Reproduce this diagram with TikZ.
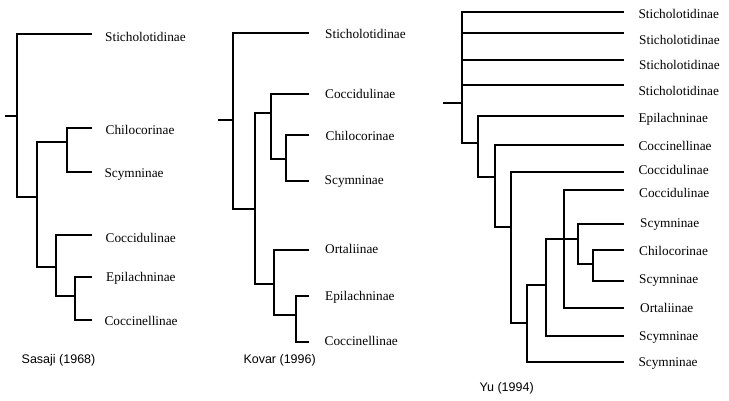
\documentclass[tikz,border=0pt]{standalone}
\usepackage{fontspec}
\setmainfont{Liberation Serif}
\newfontfamily\capfont{Liberation Sans}
\begin{document}
\begin{tikzpicture}[x=1pt,y=-1pt,
  br/.style={line width=2pt,line join=miter},
  lab/.style={anchor=base west,inner sep=0pt,font=\fontsize{13.3}{15}\selectfont},
  captxt/.style={anchor=base west,inner sep=0pt,font=\capfont\fontsize{12.5}{14}\selectfont}]
\useasboundingbox (0,0) rectangle (729,400);
% ---------- Panel 1: Sasaji (1968)
\coordinate (r1s) at (5,116);
\coordinate (r1) at (17,116);
\coordinate (n1b) at (37,197);
\coordinate (n1c) at (67,142);
\coordinate (n1d) at (56,267);
\coordinate (n1e) at (75,296);
\coordinate (a1) at (92,34);
\coordinate (a2) at (92,128);
\coordinate (a3) at (92,172);
\coordinate (a4) at (92,235);
\coordinate (a5) at (92,277);
\coordinate (a6) at (92,320);
\draw[br] (r1s) -- (r1);
\draw[br] (r1) |- (a1);
\draw[br] (r1) |- (n1b);
\draw[br] (n1b) |- (n1c);
\draw[br] (n1b) |- (n1d);
\draw[br] (n1c) |- (a2);
\draw[br] (n1c) |- (a3);
\draw[br] (n1d) |- (a4);
\draw[br] (n1d) |- (n1e);
\draw[br] (n1e) |- (a5);
\draw[br] (n1e) |- (a6);
\node[lab] (ta1) at (105,41.7) {Sticholotidinae};
\node[lab] (ta2) at (105.5,134.3) {Chilocorinae};
\node[lab] (ta3) at (104.3,177.3) {Scymninae};
\node[lab] (ta4) at (105.5,242.7) {Coccidulinae};
\node[lab] (ta5) at (106,281.7) {Epilachninae};
\node[lab] (ta6) at (104.3,325.5) {Coccinellinae};
\node[captxt] (cap1) at (21.5,363.3) {Sasaji (1968)};
% ---------- Panel 2: Kovar (1996)
\coordinate (r2s) at (218,120);
\coordinate (r2) at (233,120);
\coordinate (n2b) at (255,209);
\coordinate (n2c) at (271,113);
\coordinate (n2d) at (286,159);
\coordinate (n2e) at (274,284);
\coordinate (n2f) at (296,315);
\coordinate (b1) at (309,33);
\coordinate (b2) at (309,94);
\coordinate (b3) at (309,135);
\coordinate (b4) at (309,181);
\coordinate (b5) at (309,250);
\coordinate (b6) at (309,296);
\coordinate (b7) at (309,342);
\draw[br] (r2s) -- (r2);
\draw[br] (r2) |- (b1);
\draw[br] (r2) |- (n2b);
\draw[br] (n2b) |- (n2c);
\draw[br] (n2b) |- (n2e);
\draw[br] (n2c) |- (b2);
\draw[br] (n2c) |- (n2d);
\draw[br] (n2d) |- (b3);
\draw[br] (n2d) |- (b4);
\draw[br] (n2e) |- (b5);
\draw[br] (n2e) |- (n2f);
\draw[br] (n2f) |- (b6);
\draw[br] (n2f) |- (b7);
\node[lab] (tb1) at (325,38.3) {Sticholotidinae};
\node[lab] (tb2) at (325,98.3) {Coccidulinae};
\node[lab] (tb3) at (325.5,140) {Chilocorinae};
\node[lab] (tb4) at (324.5,184.3) {Scymninae};
\node[lab] (tb5) at (325,253.3) {Ortaliinae};
\node[lab] (tb6) at (325,300) {Epilachninae};
\node[lab] (tb7) at (324.5,345.7) {Coccinellinae};
\node[captxt] (cap2) at (243.3,363.3) {Kovar (1996)};
% ---------- Panel 3: Yu (1994)
\coordinate (r3s) at (443,103);
\coordinate (r3) at (462,103);
\coordinate (n3b) at (478,143);
\coordinate (n3c) at (495,177);
\coordinate (n3d) at (511,227);
\coordinate (n3e) at (527,323);
\coordinate (n3f) at (546,285);
\coordinate (n3g) at (564,239);
\coordinate (n3h) at (578,239);
\coordinate (n3i) at (593,264);
\coordinate (c1) at (624,12);
\coordinate (c2) at (624,33);
\coordinate (c3) at (624,60);
\coordinate (c4) at (624,85);
\coordinate (c5) at (624,116);
\coordinate (c6) at (624,145);
\coordinate (c7) at (624,172);
\coordinate (c8) at (624,190);
\coordinate (c9) at (624,224);
\coordinate (c10) at (624,250);
\coordinate (c11) at (624,281);
\coordinate (c12) at (624,308);
\coordinate (c13) at (624,336);
\coordinate (c14) at (624,362);
\draw[br] (r3s) -- (r3);
\draw[br] (r3) |- (c1);
\draw[br] (r3) |- (c2);
\draw[br] (r3) |- (c3);
\draw[br] (r3) |- (c4);
\draw[br] (r3) |- (n3b);
\draw[br] (n3b) |- (c5);
\draw[br] (n3b) |- (n3c);
\draw[br] (n3c) |- (c6);
\draw[br] (n3c) |- (n3d);
\draw[br] (n3d) |- (c7);
\draw[br] (n3d) |- (n3e);
\draw[br] (n3e) |- (n3f);
\draw[br] (n3e) |- (c14);
\draw[br] (n3f) |- (n3g);
\draw[br] (n3f) |- (c13);
\draw[br] (n3g) |- (c8);
\draw[br] (n3g) |- (c12);
\draw[br] (n3g) -- (n3h);
\draw[br] (n3h) |- (c9);
\draw[br] (n3h) |- (n3i);
\draw[br] (n3i) |- (c10);
\draw[br] (n3i) |- (c11);
\node[lab] (tc1) at (638.3,18.3) {Sticholotidinae};
\node[lab] (tc2) at (639,44.3) {Sticholotidinae};
\node[lab] (tc3) at (639,69) {Sticholotidinae};
\node[lab] (tc4) at (638.3,95) {Sticholotidinae};
\node[lab] (tc5) at (638.3,122.3) {Epilachninae};
\node[lab] (tc6) at (638.3,150) {Coccinellinae};
\node[lab] (tc7) at (638.3,174) {Coccidulinae};
\node[lab] (tc8) at (639,197) {Coccidulinae};
\node[lab] (tc9) at (640,227.3) {Scymninae};
\node[lab] (tc10) at (639,255) {Chilocorinae};
\node[lab] (tc11) at (639,283.3) {Scymninae};
\node[lab] (tc12) at (640,312.7) {Ortaliinae};
\node[lab] (tc13) at (639,340) {Scymninae};
\node[lab] (tc14) at (638.3,366.7) {Scymninae};
\node[captxt] (cap3) at (479.3,391.7) {Yu (1994)};
\end{tikzpicture}
\end{document}
